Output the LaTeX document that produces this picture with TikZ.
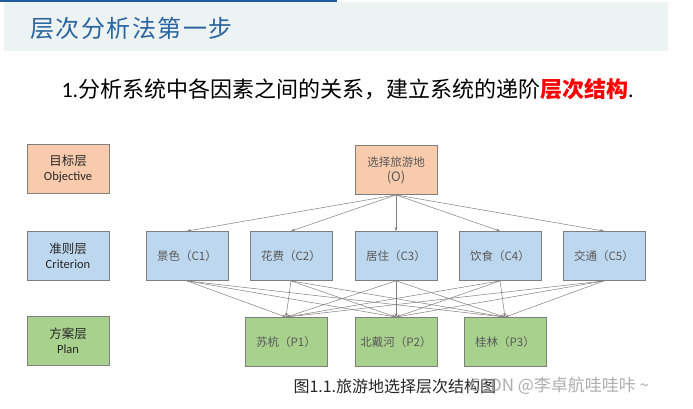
\documentclass[tikz,border=0pt]{standalone}
\usepackage{fontspec}
\setmainfont{Carlito}
\newfontfamily\cjk{Noto Sans CJK SC}
\newfontfamily\cjkwide[LetterSpace=6]{Noto Sans CJK SC}
\usetikzlibrary{arrows.meta}
\definecolor{objfill}{HTML}{F8CBAD}
\definecolor{crifill}{HTML}{BDD7EE}
\definecolor{planfill}{HTML}{A9D18E}
\definecolor{boxline}{HTML}{7F7F7F}
\definecolor{boxtext}{HTML}{595959}
\definecolor{bandgrey}{HTML}{EDF2F2}
\definecolor{titleblue}{HTML}{2A65A0}
\definecolor{barblue}{HTML}{1F5C99}
\tikzset{
  layer/.style={draw=boxline, line width=0.8pt, minimum width=82pt, minimum height=49pt,
    inner sep=0pt, align=center, font=\fontsize{12.5}{15}\selectfont, text=black!85},
  item/.style={layer, font=\cjk\fontsize{11.5}{15}\selectfont, text=boxtext},
  link/.style={draw=boxline, line width=0.5pt, -{Stealth[length=4pt,width=3pt]}}
}
\begin{document}
\begin{tikzpicture}[x=1pt, y=-1pt]
    \useasboundingbox (0,0) rectangle (693,409);
    % header
    \fill[barblue] (0,0) rectangle (337,2);
    \fill[bandgrey] (4,2) rectangle (668,51);
    \node[anchor=west, text=titleblue, font=\cjkwide\fontsize{24}{26}\selectfont] (title) at (27,28) {层次分析法第一步};
    \node[anchor=west, font=\fontsize{22}{24}\selectfont] (step) at (58,89)
        {1.{\cjk 分析系统中各因素之间的关系，建立系统的递阶\textcolor{red}{\bfseries 层次结构}}.};
    % layer labels
    \node[layer, fill=objfill] (obj) at (68,169) {{\cjk 目标层}\\Objective};
    \node[layer, fill=crifill] (cri) at (68,256) {{\cjk 准则层}\\Criterion};
    \node[layer, fill=planfill] (plan) at (68,341) {{\cjk 方案层}\\Plan};
    % hierarchy
    \node[item, fill=objfill] (goal) at (396,170) {选择旅游地\\{\fontsize{13}{15}\selectfont(O)}};
    \node[item, fill=crifill] (c1) at (187,256) {景色（C1）};
    \node[item, fill=crifill] (c2) at (291,256) {花费（C2）};
    \node[item, fill=crifill] (c3) at (396,256) {居住（C3）};
    \node[item, fill=crifill] (c4) at (500,256) {饮食（C4）};
    \node[item, fill=crifill] (c5) at (604,256) {交通（C5）};
    \node[item, fill=planfill] (p1) at (286,342) {苏杭（P1）};
    \node[item, fill=planfill] (p2) at (396,342) {北戴河（P2）};
    \node[item, fill=planfill] (p3) at (505,342) {桂林（P3）};
    \foreach \i in {1,...,5}
        \draw[link] (goal.south) -- (c\i.north);
    \foreach \i in {1,...,5}
        \foreach \j in {1,2,3}
            \draw[link] (c\i.south) -- (p\j.north);
    % caption
    \node[anchor=west, text=black!85, font=\cjk\fontsize{16}{18}\selectfont] (caption) at (290,386) {图1.1.旅游地选择层次结构图};
    \node[anchor=west, text=black!40, opacity=0.8, font=\cjk\fontsize{17}{19}\selectfont] (mark) at (466,386) {CSDN @李卓航哇哇咔 \~{}};
\end{tikzpicture}
\end{document}
